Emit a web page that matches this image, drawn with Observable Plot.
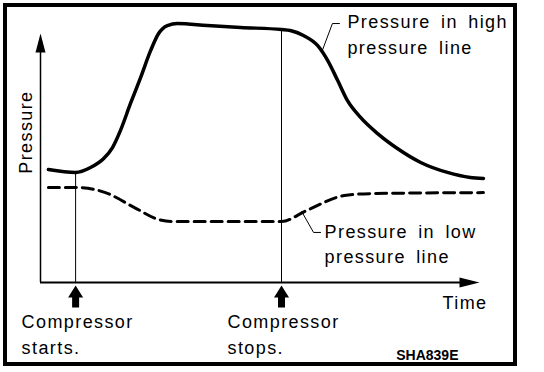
<!DOCTYPE html>
<html>
<head>
<meta charset="utf-8">
<script src="https://cdn.jsdelivr.net/npm/d3@7"></script>
<script src="https://cdn.jsdelivr.net/npm/@observablehq/plot@0.6"></script>
<style>
  html, body { margin: 0; padding: 0; background: #fff; }
  #wrap { position: relative; width: 544px; height: 372px; overflow: hidden; background: #fff; }
  #border { position: absolute; left: 3px; top: 3px; width: 506px; height: 355px; border: 4px solid #000; }
  #wrap svg { position: absolute; left: 0; top: 0; overflow: visible; }
  #wrap svg text { letter-spacing: 1.4px; word-spacing: 4px; }
</style>
</head>
<body>
<div id="wrap"><div id="border"></div></div>
<script>
// Pressure in the high pressure line (solid)
const time = [1.8, 8.0, 11.4, 14.4, 16.4, 18.2, 20.5, 22.8, 25.1, 26.9, 28.9, 31.2, 38.0, 45.6, 54.9, 56.9, 59.9, 63.1, 65.4, 67.7, 69.9, 72.9, 76.8, 81.3, 86.6, 92.7, 97.9, 100.9];
const highPressure = [4.54, 4.42, 4.62, 4.98, 5.42, 6.10, 7.19, 8.23, 9.32, 10.0, 10.32, 10.40, 10.32, 10.24, 10.16, 10.12, 9.92, 9.52, 8.92, 8.11, 7.31, 6.63, 5.98, 5.38, 4.82, 4.42, 4.22, 4.18];

// Pressure in the low pressure line (dashed)
const lowTime = [1.8, 8.0, 14.8, 21.4, 26.9, 30.1, 54.9, 60.6, 69.2, 75.2, 100.9];
const lowPressure = [3.82, 3.82, 3.61, 3.01, 2.53, 2.45, 2.45, 2.89, 3.49, 3.57, 3.61];

// Compressor events
const eventTime = [8.0, 54.9];
const eventPressure = [4.42, 10.16];
const eventLabel = ["Compressor\nstarts.", "Compressor\nstops."];

// Series labels and their leader lines
const seriesLabel = ["Pressure in high\npressure line", "Pressure in low\npressure line"];
const highLeaderTime = [64.2, 66.5, 68.1];
const highLeaderPressure = [9.32, 10.4, 10.4];
const lowLeaderTime = [59.5, 62.2, 63.8];
const lowLeaderPressure = [2.85, 2.01, 2.01];

const xLabel = "Time";
const yLabel = "Pressure";
const code = "SHA839E";

// shapes
const upHead = { draw(ctx) { ctx.moveTo(0, 0); ctx.lineTo(5, 19); ctx.lineTo(-5, 19); ctx.closePath(); } };
const rightHead = { draw(ctx) { ctx.moveTo(0, 0); ctx.lineTo(-20, -5); ctx.lineTo(-20, 5); ctx.closePath(); } };
const fatArrow = { draw(ctx) {
  ctx.moveTo(0, 3); ctx.lineTo(7.5, 15); ctx.lineTo(3.5, 15); ctx.lineTo(3.5, 25);
  ctx.lineTo(-3.5, 25); ctx.lineTo(-3.5, 15); ctx.lineTo(-7.5, 15); ctx.closePath();
} };

const font = "'Liberation Sans', Arial, Helvetica, sans-serif";

const chart = Plot.plot({
  width: 544,
  height: 372,
  marginLeft: 40,
  marginRight: 65,
  marginTop: 33,
  marginBottom: 90,
  x: { domain: [0, 100], axis: null },
  y: { domain: [0, 10], axis: null },
  style: { background: "transparent", fontFamily: font, color: "#000" },
  marks: [
    // axes
    Plot.ruleX([0], { y1: 0, y2: 9.5, stroke: "#000", strokeWidth: 1.5 }),
    Plot.ruleY([0], { x1: 0, x2: 97, stroke: "#000", strokeWidth: 2 }),
    Plot.dot([0], { x: 0, y: 10, symbol: upHead, fill: "#000", stroke: "none" }),
    Plot.dot([0], { x: 100, y: 0, symbol: rightHead, fill: "#000", stroke: "none" }),
    // compressor event lines and arrows
    Plot.ruleX(eventTime, { x: eventTime, y1: 0, y2: eventPressure, stroke: "#000", strokeWidth: 1 }),
    Plot.dot(eventTime, { x: eventTime, y: 0, symbol: fatArrow, fill: "#000", stroke: "none" }),
    // series
    Plot.line(time, { x: time, y: highPressure, stroke: "#000", strokeWidth: 3.5, curve: "monotone-x" }),
    Plot.line(lowTime, { x: lowTime, y: lowPressure, stroke: "#000", strokeWidth: 3, strokeDasharray: "11,6", curve: "monotone-x" }),
    // leaders
    Plot.line(highLeaderTime, { x: highLeaderTime, y: highLeaderPressure, stroke: "#000", strokeWidth: 1 }),
    Plot.line(lowLeaderTime, { x: lowLeaderTime, y: lowLeaderPressure, stroke: "#000", strokeWidth: 1 }),
    // series labels
    Plot.text([seriesLabel[0]], { x: highLeaderTime[2], y: highLeaderPressure[2], text: d => d, textAnchor: "start", lineAnchor: "bottom", dx: 8, dy: 30, fontSize: 18, lineHeight: 1.42, fill: "#000" }),
    Plot.text([seriesLabel[1]], { x: lowLeaderTime[2], y: lowLeaderPressure[2], text: d => d, textAnchor: "start", lineAnchor: "bottom", dx: 4, dy: 31, fontSize: 18, lineHeight: 1.42, fill: "#000" }),
    // event labels
    Plot.text(eventLabel, { x: eventTime, y: 0, text: eventLabel, textAnchor: "start", lineAnchor: "bottom", dx: -54, dy: 71, fontSize: 18, lineHeight: 1.42, fill: "#000" }),
    // axis labels
    Plot.text([xLabel], { x: 100, y: 0, text: d => d, textAnchor: "end", lineAnchor: "bottom", dx: 8, dy: 26, fontSize: 18, fill: "#000" }),
    Plot.text([yLabel], { x: 0, y: 6.04, text: d => d, rotate: -90, textAnchor: "middle", lineAnchor: "bottom", dx: -9, fontSize: 18, fill: "#000" }),
    // figure code
    Plot.text([code], { x: 100, y: 0, text: d => d, textAnchor: "end", lineAnchor: "bottom", dx: -21, dy: 77, fontSize: 14, fontWeight: "bold", fill: "#000" })
  ]
});

d3.select(chart).selectAll("text")
  .filter(function () { return this.textContent === code; })
  .style("letter-spacing", "0px");

document.getElementById("wrap").appendChild(chart);
</script>
</body>
</html>
